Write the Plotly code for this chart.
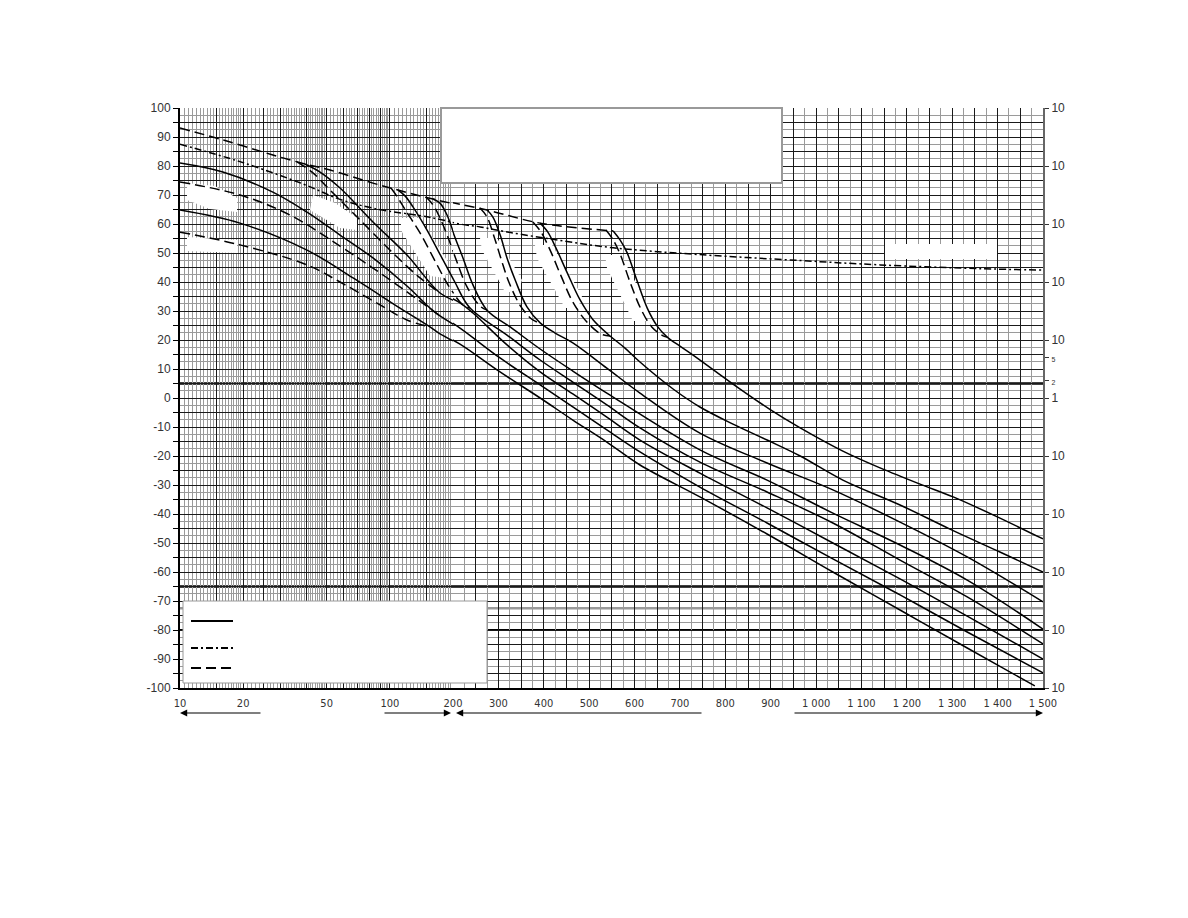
import math
import plotly.graph_objects as go

SPLIT_KM = 200

# ---- values: distance (km) and level (dB) ----
envelope_km = [10, 16.0, 27.7, 39.4, 51.9, 83.1, 109.4, 160.6, 275, 392, 553]
envelope_db = [93.1, 89.0, 83.8, 80.7, 78.6, 74.1, 71.7, 68.6, 64.8, 60.3, 57.6]

dashdot_km = [10, 19.3, 38.6, 57.9, 85, 155, 215, 260, 300, 420, 553, 738, 965, 1141, 1361, 1500]
dashdot_db = [87.5, 81.5, 73.8, 68.5, 65.3, 62.3, 60.0, 59.0, 57.8, 54.7, 51.8, 49.5, 47.4, 45.9, 44.6, 44.1]

c1_km = [553, 568, 583, 605, 628, 650, 672, 700, 729, 817, 899, 965, 1059, 1141, 1229, 1302, 1390, 1500]
c1_db = [57.6, 54.5, 50.3, 40.7, 31.0, 24.8, 21.0, 17.9, 14.8, 4.8, -4.0, -10.3, -18.3, -24.1, -29.7, -34.1, -40.3, -48.6]

c2_km = [392, 409, 427, 451, 480, 509, 546, 579, 612, 685, 744, 817, 892, 965, 1059, 1185, 1295, 1405, 1500]
c2_db = [60.3, 57.2, 51.7, 43.4, 33.8, 26.9, 21.4, 17.2, 12.4, 3.1, -3.1, -9.0, -14.5, -20.0, -28.3, -36.9, -45.2, -53.1, -60.0]

c3_km = [275, 288, 304, 319, 337, 363, 392, 425, 464, 539, 612, 744, 892, 1037, 1185, 1333, 1500]
c3_db = [64.8, 62.4, 56.2, 48.3, 40.7, 31.4, 25.9, 22.4, 19.0, 10.3, 1.7, -12.1, -22.4, -31.7, -42.8, -54.8, -70.3]

c4_km = [160.6, 173.4, 187.3, 204, 222, 244, 275, 326, 392, 464, 539, 744, 892, 1037, 1185, 1333, 1500]
c4_db = [68.6, 67.2, 63.1, 55.5, 48.3, 39.0, 30.3, 24.5, 16.9, 9.3, 1.7, -17.9, -28.3, -39.7, -50.7, -62.8, -79.7]

c5_km = [109.4, 118.1, 128.9, 150.4, 179.2, 204, 237.5, 319, 392, 464, 539, 612, 744, 892, 1037, 1185, 1333, 1500]
c5_db = [71.7, 69.7, 65.9, 57.9, 47.6, 40.0, 31.0, 21.7, 13.1, 5.5, -2.4, -10.3, -22.1, -32.4, -43.1, -55.9, -68.6, -84.8]

c6_km = [39.4, 46.5, 57.9, 83.1, 120.7, 173.4, 215.4, 244, 319, 392, 464, 539, 612, 744, 892, 1037, 1185, 1333, 1500]
c6_db = [80.7, 77.9, 72.4, 60.7, 49.3, 36.2, 32.8, 29.3, 18.3, 9.0, 1.4, -6.6, -14.5, -25.9, -37.9, -50.0, -62.4, -75.2, -90.0]

c7_km = [10, 16.0, 27.7, 40.3, 57.9, 83.1, 120.7, 155.4, 173.4, 215.4, 303.6, 392, 464, 539, 612, 744, 892, 1037, 1185, 1333, 1500]
c7_db = [81.0, 77.9, 71.0, 64.1, 56.2, 48.3, 38.6, 31.0, 28.3, 24.1, 13.8, 4.5, -3.1, -11.0, -18.6, -30.7, -43.1, -55.5, -67.9, -80.7, -94.8]

c8_km = [10, 19.3, 40.3, 66.8, 111.8, 155.4, 173.4, 215.4, 303.6, 392, 464, 539, 612, 744, 892, 1037, 1185, 1333, 1482]
c8_db = [64.8, 60.3, 51.0, 41.4, 31.0, 24.5, 22.1, 18.6, 9.0, 0.0, -7.6, -15.2, -23.1, -34.1, -46.9, -60.0, -73.1, -86.2, -99.3]

d2_km = [10, 19.3, 33.4, 57.9, 83.1, 120.7, 147.1, 173.4]
d2_db = [74.5, 70.0, 63.1, 52.4, 44.8, 36.6, 32.1, 28.3]

d3_km = [10, 19.3, 40.3, 57.9, 89.8, 120.7, 155.4]
d3_db = [57.2, 52.8, 45.9, 40.0, 32.1, 26.9, 24.5]

dk1_km = [537, 553, 568, 590, 614, 638, 663, 672]
dk1_db = [57.9, 54.5, 49.7, 40.0, 30.7, 24.5, 21.4, 21.0]
dk2_km = [376, 394, 414, 438, 464, 495, 526, 546]
dk2_db = [60.7, 57.2, 51.0, 42.1, 33.1, 26.2, 22.1, 21.4]
dk3_km = [259.5, 275, 290, 306, 323, 350, 376, 392]
dk3_db = [65.5, 62.4, 55.9, 47.9, 40.0, 31.4, 26.9, 25.9]
dk4_km = [148.7, 160.6, 173.4, 191.4, 208.8, 230.9, 259.5, 275]
dk4_db = [69.3, 66.6, 62.1, 54.5, 46.9, 38.3, 31.7, 30.3]
dk5_km = [101.3, 109.4, 119.4, 139.3, 166.0, 189.3, 219.8, 237.5]
dk5_db = [72.4, 69.0, 64.5, 56.9, 46.6, 39.0, 32.4, 31.0]
dk6_km = [36.1, 42.6, 51.9, 73.7, 105.8, 139.3, 173.4]
dk6_db = [81.4, 77.9, 71.7, 60.7, 49.3, 41.4, 36.2]

# x tick labels
log_ticks = [10, 15, 20, 25, 30, 40, 50, 60, 70, 80, 90, 100, 150, 200]
log_labels = {10: "10", 20: "20", 50: "50", 100: "100", 200: "200"}
lin_ticks = list(range(200, 1501, 50))
lin_labels = {300: "300", 400: "400", 500: "500", 600: "600", 700: "700", 800: "800",
              900: "900", 1000: "1 000", 1100: "1 100", 1200: "1 200", 1300: "1 300",
              1400: "1 400", 1500: "1 500"}
# right-hand scale labels (exponents are missing in the source)
right_ticks = [100, 80, 60, 40, 20, 14, 6, 0, -20, -40, -60, -80, -100]
right_labels = ["10", "10", "10", "10", "10", "5", "2", "1", "10", "10", "10", "10", "10"]

SOLID = "solid"
DASH = "10px,5px"
DASHDOT = "7px,3px,2px,3px"

curves = [
    (envelope_km, envelope_db, DASH),
    (dashdot_km, dashdot_db, DASHDOT),
    (d2_km, d2_db, DASH), (d3_km, d3_db, DASH),
    (dk1_km, dk1_db, DASH), (dk2_km, dk2_db, DASH), (dk3_km, dk3_db, DASH),
    (dk4_km, dk4_db, DASH), (dk5_km, dk5_db, DASH), (dk6_km, dk6_db, DASH),
    (c1_km, c1_db, SOLID), (c2_km, c2_db, SOLID), (c3_km, c3_db, SOLID),
    (c4_km, c4_db, SOLID), (c5_km, c5_db, SOLID), (c6_km, c6_db, SOLID),
    (c7_km, c7_db, SOLID), (c8_km, c8_db, SOLID),
]

# page body adds 8px, so the figure is laid out 8px smaller
W, H = 1180, 910
L, R, T, B = 172, 145, 100, 230
PW, PH = W - L - R, H - T - B
X_LEFT, Y_BOTTOM = 180, 688          # plot corner on the screen
X_SPLIT = 453                        # where the log part ends on the screen
split = (X_SPLIT - X_LEFT) / PW


def paper(px, py):
    return (px - X_LEFT) / PW, (Y_BOTTOM - py) / PH


def screen_to_data(px, py):
    if px <= X_SPLIT:
        km = 10 * 20 ** ((px - X_LEFT) / (X_SPLIT - X_LEFT))
    else:
        km = 200 + (px - X_SPLIT) * 1300 / (X_LEFT + PW - X_SPLIT)
    return km, (Y_BOTTOM - py) * 200 / PH - 100


def add_curve(fig, km, db, dash):
    line = dict(color="black", width=1.5, dash=dash, shape="spline", smoothing=1.0)
    near = [i for i, d in enumerate(km) if d <= SPLIT_KM]
    far = [i for i, d in enumerate(km) if d >= SPLIT_KM]
    if near:
        idx = near + ([near[-1] + 1] if near[-1] + 1 < len(km) else [])
        fig.add_trace(go.Scatter(x=[km[i] for i in idx], y=[db[i] for i in idx],
                                 xaxis="x", yaxis="y", mode="lines", line=line,
                                 hoverinfo="skip", showlegend=False))
    if far:
        idx = ([far[0] - 1] if far[0] > 0 else []) + far
        fig.add_trace(go.Scatter(x=[km[i] for i in idx], y=[db[i] for i in idx],
                                 xaxis="x2", yaxis="y", mode="lines", line=line,
                                 hoverinfo="skip", showlegend=False))


fig = go.Figure()

# blank label patches (drawn first so the curves stay on top)
blobs = [
    [(187, 183), (215, 186), (237, 198), (237, 212), (210, 209), (187, 200)],
    [(187, 237), (237, 240), (237, 253), (187, 251)],
    [(313, 195), (335, 203), (357, 218), (357, 230), (340, 228), (310, 210)],
    [(400, 218), (420, 218), (448, 262), (445, 278), (430, 276), (402, 232)],
    [(480, 238), (497, 238), (522, 280), (518, 292), (505, 292), (482, 250)],
    [(535, 245), (552, 245), (582, 296), (578, 308), (565, 308), (537, 258)],
    [(605, 255), (621, 255), (649, 308), (646, 321), (633, 321), (607, 268)],
]
for poly in blobs:
    pts = [screen_to_data(px, py) for px, py in poly + poly[:1]]
    on_log = max(px for px, _ in poly) <= X_SPLIT
    fig.add_trace(go.Scatter(x=[p[0] for p in pts], y=[p[1] for p in pts],
                             xaxis="x" if on_log else "x2", yaxis="y",
                             mode="lines", fill="toself", fillcolor="white",
                             line=dict(width=0, color="white"),
                             hoverinfo="skip", showlegend=False))

for km, db, dash in curves:
    add_curve(fig, km, db, dash)

# keeps the right-hand scale alive
fig.add_trace(go.Scatter(x=[1500], y=[0], xaxis="x2", yaxis="y2", mode="markers",
                         marker=dict(opacity=0), hoverinfo="skip", showlegend=False))

GRID = "#1a1a1a"
MINOR = "#9a9a9a"
narrow = dict(family="Liberation Sans Narrow, Arial Narrow, DejaVu Sans Condensed, sans-serif",
              size=11, color="#333")

log_minor = ([v / 2 for v in range(21, 40) if v != 30]
             + [v for v in range(21, 50) if v not in (25, 30, 40)]
             + [v for v in range(52, 100, 2) if v not in (60, 70, 80, 90)]
             + [v for v in range(105, 200, 5) if v != 150])
lin_minor = list(range(225, 1500, 50))

fig.update_layout(
    width=W, height=H,
    margin=dict(l=L, r=R, t=T, b=B),
    paper_bgcolor="white", plot_bgcolor="white",
    showlegend=False,
    font=dict(family="Liberation Sans, Arial, sans-serif", size=11, color="#333"),
    xaxis=dict(type="log", domain=[0, split], range=[1, math.log10(200)], anchor="y",
               tickmode="array", tickvals=log_ticks,
               ticktext=[log_labels.get(v, "") for v in log_ticks],
               showgrid=True, gridcolor=GRID, gridwidth=1,
               minor=dict(tickvals=log_minor, showgrid=True, gridcolor=MINOR, gridwidth=1),
               showline=True, linecolor="black", linewidth=2, ticks="", zeroline=False,
               tickfont=narrow, ticklabelstandoff=4),
    xaxis2=dict(type="linear", domain=[split, 1], range=[200, 1500], anchor="y",
                tickmode="array", tickvals=lin_ticks,
                ticktext=[lin_labels.get(v, "") for v in lin_ticks],
                showgrid=True, gridcolor=GRID, gridwidth=1,
                minor=dict(tickvals=lin_minor, showgrid=True, gridcolor=MINOR, gridwidth=1),
                showline=True, linecolor="black", linewidth=2, ticks="", zeroline=False,
                tickfont=narrow, ticklabelstandoff=4),
    yaxis=dict(range=[-100, 100], anchor="x", tickmode="array",
               tickvals=list(range(-100, 101, 5)),
               ticktext=[str(v) if v % 10 == 0 else "" for v in range(-100, 101, 5)],
               showgrid=True, gridcolor=GRID, gridwidth=1,
               minor=dict(dtick=2.5, showgrid=True, gridcolor=MINOR, gridwidth=1),
               showline=True, linecolor="black", linewidth=2,
               ticks="outside", ticklen=5, tickcolor="black", zeroline=False,
               tickfont=dict(size=12, color="#333")),
    yaxis2=dict(range=[-100, 100], overlaying="y", side="right", anchor="x2",
                tickmode="array", tickvals=right_ticks,
                ticktext=[t if t != "5" and t != "2" else f'<span style="font-size:7px">{t}</span>'
                          for t in right_labels],
                showgrid=False, showline=True, linecolor="#666", linewidth=2,
                ticks="outside", ticklen=4, tickcolor="#333", zeroline=False,
                tickfont=dict(size=12, color="#333")),
)

shapes = []
for yv, color, wd in [(5, "black", 2.5), (-65, "black", 2.5), (-72.5, MINOR, 2.5), (-80, "black", 2)]:
    shapes.append(dict(type="line", xref="paper", yref="y", x0=0, x1=1, y0=yv, y1=yv,
                       line=dict(color=color, width=wd), layer="between"))

# blank label strip on the right, title box and key box
x0, y1 = paper(885, 244)
x1, y0 = paper(997, 259)
shapes.append(dict(type="rect", xref="paper", yref="paper", x0=x0, x1=x1, y0=y0, y1=y1,
                   fillcolor="white", line=dict(width=0), layer="above"))
x0, y1 = paper(441, 108)
x1, y0 = paper(782, 183)
shapes.append(dict(type="rect", xref="paper", yref="paper", x0=x0, x1=x1, y0=y0, y1=y1,
                   fillcolor="white", line=dict(color="#999", width=2), layer="above"))
x0, y1 = paper(183, 601)
x1, y0 = paper(487, 683)
shapes.append(dict(type="rect", xref="paper", yref="paper", x0=x0, x1=x1, y0=y0, y1=y1,
                   fillcolor="white", line=dict(color="#999", width=1), layer="above"))
for py, dash in [(621, SOLID), (648, DASHDOT), (668, DASH)]:
    xa, ya = paper(191, py)
    xb, _ = paper(233, py)
    shapes.append(dict(type="line", xref="paper", yref="paper", x0=xa, x1=xb, y0=ya, y1=ya,
                       line=dict(color="black", width=2, dash=dash), layer="above"))

fig.update_layout(shapes=shapes)

# range arrows under the distance axis
arrows = [(180, 262), (451, 383), (456, 703), (1043, 793)]
for head, tail in arrows:
    hx, hy = paper(head, 713)
    fig.add_annotation(x=hx, y=hy, xref="paper", yref="paper", text="", showarrow=True,
                       ax=tail - head, ay=0, arrowhead=2, arrowsize=1.2, arrowwidth=1.2,
                       arrowcolor="black")

fig.write_html("out.html")
